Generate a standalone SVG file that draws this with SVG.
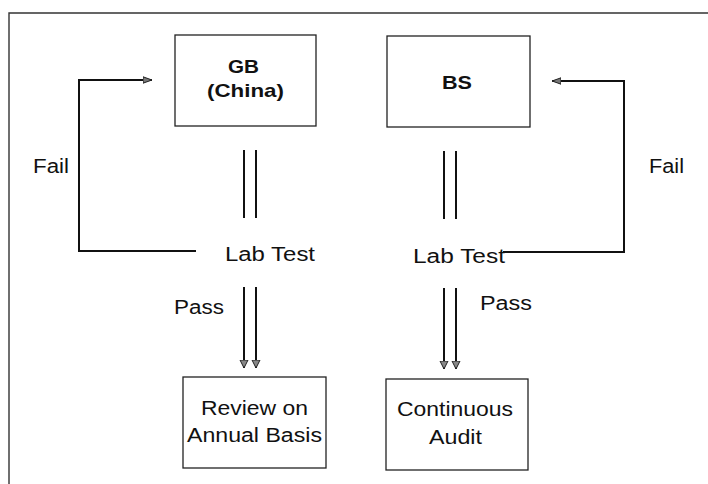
<svg xmlns="http://www.w3.org/2000/svg" width="708" height="484" viewBox="0 0 708 484">
  <style>
    .box { fill: #fff; stroke: #222; stroke-width: 1.3; }
    .frame { fill: none; stroke: #333; stroke-width: 1.4; }
    .line { fill: none; stroke: #111; stroke-width: 2; }
    .label { font-family: "Liberation Sans", Arial, sans-serif; font-size: 20px; fill: #111; }
    .title { font-family: "Liberation Sans", Arial, sans-serif; font-size: 19px; font-weight: bold; fill: #111; }
  </style>
  <defs>
    <marker id="failHead" markerWidth="10" markerHeight="8" refX="9" refY="4" orient="auto" markerUnits="userSpaceOnUse">
      <path d="M0,0.8 L9,4 L0,7.2 Z" fill="#777" stroke="#222" stroke-width="1"/>
    </marker>
    <marker id="passHead" markerWidth="10" markerHeight="10" refX="8" refY="4.5" orient="auto" markerUnits="userSpaceOnUse">
      <path d="M0,0.5 L8,4.5 L0,8.5 Z" fill="#888" stroke="#222" stroke-width="1"/>
    </marker>
  </defs>

  <rect width="708" height="484" fill="#fff"/>

  <!-- outer frame (top and left edges) -->
  <path class="frame" d="M9,484 L9,13 L708,13"/>

  <g id="connectors">
    <!-- GB to left lab test -->
    <line class="line" x1="244" y1="150" x2="244" y2="218"/>
    <line class="line" x1="256" y1="150" x2="256" y2="218"/>
    <!-- BS to right lab test -->
    <line class="line" x1="444" y1="151" x2="444" y2="219"/>
    <line class="line" x1="456" y1="151" x2="456" y2="219"/>
    <!-- left pass -->
    <line class="line" x1="244" y1="287" x2="244" y2="368" marker-end="url(#passHead)"/>
    <line class="line" x1="256" y1="287" x2="256" y2="368" marker-end="url(#passHead)"/>
    <!-- right pass -->
    <line class="line" x1="444" y1="288" x2="444" y2="369" marker-end="url(#passHead)"/>
    <line class="line" x1="456" y1="288" x2="456" y2="369" marker-end="url(#passHead)"/>
    <!-- left fail loop -->
    <path class="line" d="M196,251 L79,251 L79,80 L152,80" marker-end="url(#failHead)"/>
    <!-- right fail loop -->
    <path class="line" d="M503,252 L624,252 L624,81 L552,81" marker-end="url(#failHead)"/>
  </g>

  <g id="node-gb">
    <rect class="box" x="175" y="35" width="141" height="91"/>
    <text class="title" x="228" y="73" textLength="31" lengthAdjust="spacingAndGlyphs">GB</text>
    <text class="title" x="207" y="97" textLength="77" lengthAdjust="spacingAndGlyphs">(China)</text>
  </g>

  <g id="node-bs">
    <rect class="box" x="387" y="36" width="143" height="91"/>
    <text class="title" x="442" y="89" textLength="30" lengthAdjust="spacingAndGlyphs">BS</text>
  </g>

  <g id="node-labtest-left">
    <text class="label" x="225" y="261" textLength="90" lengthAdjust="spacingAndGlyphs">Lab Test</text>
  </g>

  <g id="node-labtest-right">
    <text class="label" x="413" y="263" textLength="92" lengthAdjust="spacingAndGlyphs">Lab Test</text>
  </g>

  <g id="node-review">
    <rect class="box" x="183" y="377" width="143" height="91"/>
    <text class="label" x="201" y="415" textLength="107" lengthAdjust="spacingAndGlyphs">Review on</text>
    <text class="label" x="187" y="442" textLength="135" lengthAdjust="spacingAndGlyphs">Annual Basis</text>
  </g>

  <g id="node-audit">
    <rect class="box" x="386" y="379" width="142" height="91"/>
    <text class="label" x="397" y="416" textLength="116" lengthAdjust="spacingAndGlyphs">Continuous</text>
    <text class="label" x="429" y="444" textLength="53" lengthAdjust="spacingAndGlyphs">Audit</text>
  </g>

  <!-- edge labels -->
  <g id="labels">
    <text class="label" x="33" y="173" textLength="36" lengthAdjust="spacingAndGlyphs">Fail</text>
    <text class="label" x="649" y="173" textLength="35" lengthAdjust="spacingAndGlyphs">Fail</text>
    <text class="label" x="174" y="314" textLength="50" lengthAdjust="spacingAndGlyphs">Pass</text>
    <text class="label" x="480" y="310" textLength="52" lengthAdjust="spacingAndGlyphs">Pass</text>
  </g>
</svg>
